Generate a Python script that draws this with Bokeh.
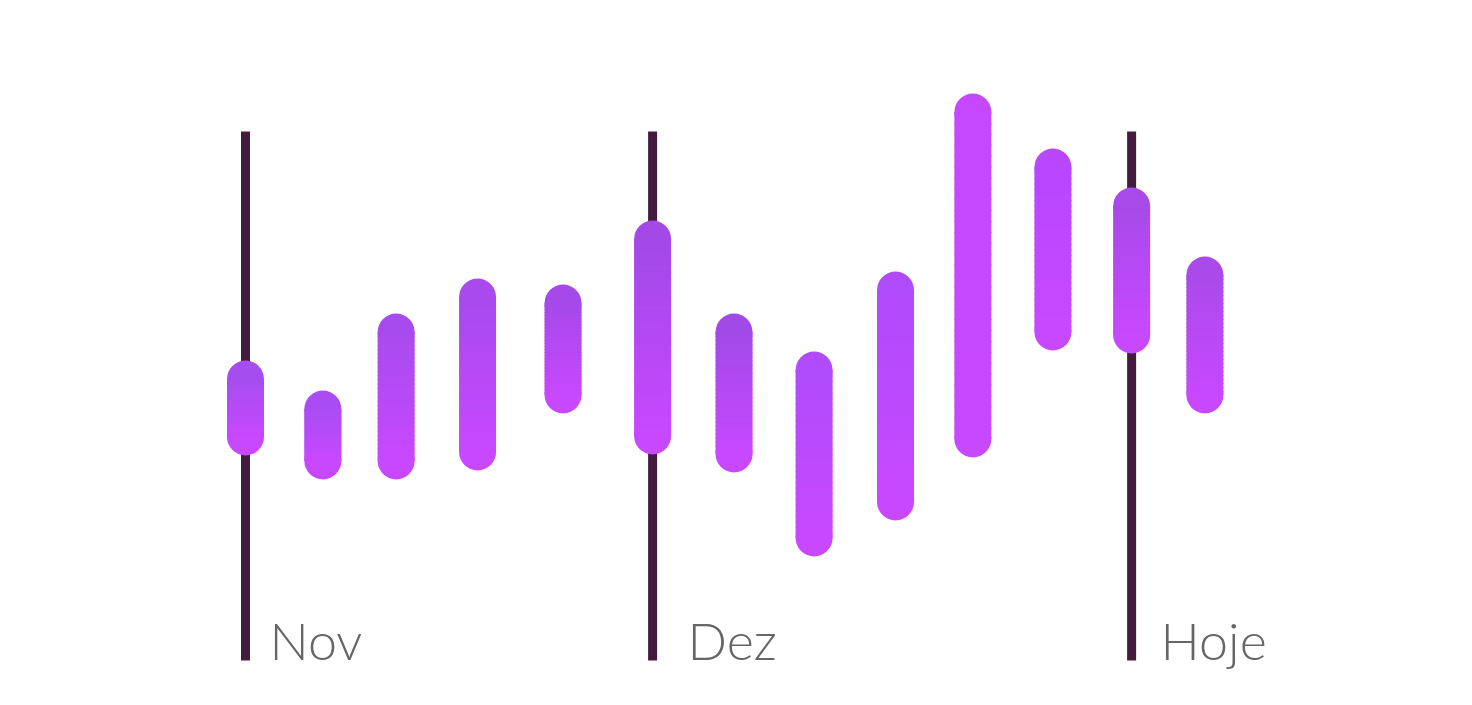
import numpy as np
from bokeh.plotting import figure
from bokeh.models import Range1d, ColumnDataSource
from bokeh.core.properties import value
from bokeh.embed import file_html
from bokeh.resources import INLINE

# ---- data -------------------------------------------------------------
# day offsets from 1 Nov for each candle
days = [0.0, 5.7, 11.1, 17.1, 23.4, 30.0, 36.0, 41.9, 47.9, 53.6, 59.5, 65.3, 70.7]
highs = [60.0, 54.0, 69.4, 76.4, 75.2, 88.0, 69.4, 61.8, 77.8, 113.4, 102.4, 94.6, 80.8]
lows = [41.0, 36.2, 36.2, 38.0, 49.4, 41.2, 37.6, 20.8, 28.0, 40.6, 62.0, 61.4, 49.4]

marker_labels = ["Nov", "Dez", "Hoje"]
marker_days = [0.0, 30.0, 65.3]
marker_top = 105.8

# ---- styles -----------------------------------------------------------
top_colors = ["#a64df0", "#a94cf3", "#a84bee", "#a84aee", "#a649ea", "#a249e8",
              "#a24ae8", "#b04cfb", "#b04bfb", "#c548ff", "#b847ff", "#a84ae9",
              "#aa4aea"]
bottom_color = "#c748ff"
label_offsets = [24, 35, 29]

W, H = 1456, 689
PX_PER_DAY = 13.57
PX_PER_UNIT = 5.0
x0 = -245 / PX_PER_DAY
x1 = x0 + W / PX_PER_DAY
y1 = 660 / PX_PER_UNIT
y0 = y1 - H / PX_PER_UNIT

p = figure(width=W, height=H, output_backend="svg", toolbar_location=None,
           x_range=Range1d(x0, x1), y_range=Range1d(y0, y1),
           min_border=0, outline_line_color=None, background_fill_color="white",
           border_fill_color="white")
p.axis.visible = False
p.grid.visible = False

# month marker lines
p.segment(x0=marker_days, y0=[0] * len(marker_days), x1=marker_days,
          y1=[marker_top] * len(marker_days), line_color="#421b3d", line_width=9)

p.text(x=marker_days, y=[0] * len(marker_days), text=marker_labels,
       x_offset=label_offsets, y_offset=-21, text_font=value("Lato Light"),
       text_font_size="52px", text_color="#666666", text_baseline="alphabetic",
       text_align="left")


def hex2rgb(h):
    h = h.lstrip("#")
    return np.array([int(h[i:i + 2], 16) for i in (0, 2, 4)], dtype=float)


def rgb2hex(c):
    return "#%02x%02x%02x" % tuple(int(round(v)) for v in c)


# capsule bars with vertical gradient: round end caps + butt-capped slices
BAR_W = 37
r_units = (BAR_W / 2) / PX_PER_UNIT
eps = 0.05
N = 30
ovl = 1.0 / PX_PER_UNIT  # 1px overlap to hide seams

cap_x, cap_y0, cap_y1, cap_c = [], [], [], []
sx, sy0, sy1, cols = [], [], [], []
for d, hi, lo, tc in zip(days, highs, lows, top_colors):
    a = hi - r_units
    b = lo + r_units
    cap_x += [d, d]
    cap_y0 += [a, b]
    cap_y1 += [a - eps, b + eps]
    cap_c += [tc, bottom_color]
    ct, cb = hex2rgb(tc), hex2rgb(bottom_color)
    edges = np.linspace(a, b, N + 1)
    for k in range(N):
        t = k / (N - 1)
        sx.append(d)
        sy0.append(edges[k])
        sy1.append(edges[k + 1] - ovl if k < N - 1 else edges[k + 1])
        cols.append(rgb2hex(ct * (1 - t) + cb * t))

caps = ColumnDataSource(dict(x=cap_x, y0=cap_y0, y1=cap_y1, c=cap_c))
p.segment(x0="x", y0="y0", x1="x", y1="y1", source=caps, line_color="c",
          line_width=BAR_W, line_cap="round")

src = ColumnDataSource(dict(x=sx, y0=sy0, y1=sy1, c=cols))
p.segment(x0="x", y0="y0", x1="x", y1="y1", source=src, line_color="c",
          line_width=BAR_W, line_cap="butt")

open("out.html", "w").write(file_html(p, INLINE))
